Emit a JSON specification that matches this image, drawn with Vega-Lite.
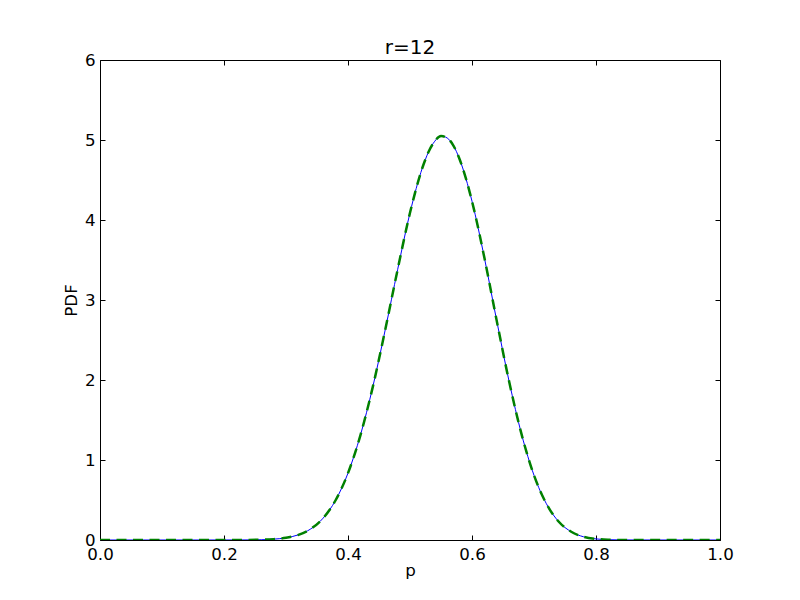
{
  "$schema": "https://vega.github.io/schema/vega-lite/v6.json",
  "width": 620,
  "height": 480,
  "autosize": {"type": "none"},
  "padding": {"left": 100, "top": 60, "right": 80, "bottom": 60},
  "background": "white",
  "title": {
    "text": "r=12",
    "font": "DejaVu Sans",
    "fontSize": 20,
    "fontWeight": "normal",
    "color": "black",
    "offset": -6
  },
  "config": {
    "view": {"stroke": "black", "strokeWidth": 1},
    "axis": {
      "grid": false,
      "domain": false,
      "tickColor": "black",
      "tickWidth": 1,
      "tickSize": -5,
      "labelFont": "DejaVu Sans",
      "labelFontSize": 16.67,
      "labelColor": "black",
      "labelFlush": false,
      "labelOverlap": false,
      "titleFont": "DejaVu Sans",
      "titleFontSize": 16.67,
      "titleFontWeight": "normal",
      "titleColor": "black"
    }
  },
  "data": {
    "values": [
      {"p": 0.0, "pdf": 0},
      {"p": 0.05, "pdf": 0},
      {"p": 0.1, "pdf": 0},
      {"p": 0.15, "pdf": 0},
      {"p": 0.2, "pdf": 0.0001},
      {"p": 0.22, "pdf": 0.0003},
      {"p": 0.24, "pdf": 0.001},
      {"p": 0.26, "pdf": 0.0035},
      {"p": 0.28, "pdf": 0.0104},
      {"p": 0.3, "pdf": 0.0273},
      {"p": 0.32, "pdf": 0.0648},
      {"p": 0.34, "pdf": 0.139},
      {"p": 0.36, "pdf": 0.274},
      {"p": 0.38, "pdf": 0.497},
      {"p": 0.4, "pdf": 0.836},
      {"p": 0.42, "pdf": 1.309},
      {"p": 0.44, "pdf": 1.914},
      {"p": 0.46, "pdf": 2.626},
      {"p": 0.48, "pdf": 3.378},
      {"p": 0.5, "pdf": 4.09},
      {"p": 0.52, "pdf": 4.653},
      {"p": 0.53, "pdf": 4.853},
      {"p": 0.54, "pdf": 4.985},
      {"p": 0.55, "pdf": 5.05},
      {"p": 0.56, "pdf": 5.025},
      {"p": 0.57, "pdf": 4.93},
      {"p": 0.58, "pdf": 4.76},
      {"p": 0.6, "pdf": 4.235},
      {"p": 0.62, "pdf": 3.527},
      {"p": 0.64, "pdf": 2.736},
      {"p": 0.66, "pdf": 1.977},
      {"p": 0.68, "pdf": 1.32},
      {"p": 0.7, "pdf": 0.809},
      {"p": 0.72, "pdf": 0.453},
      {"p": 0.74, "pdf": 0.228},
      {"p": 0.76, "pdf": 0.103},
      {"p": 0.78, "pdf": 0.04},
      {"p": 0.8, "pdf": 0.0136},
      {"p": 0.82, "pdf": 0.0038},
      {"p": 0.84, "pdf": 0.0009},
      {"p": 0.86, "pdf": 0.0002},
      {"p": 0.9, "pdf": 0},
      {"p": 0.95, "pdf": 0},
      {"p": 1.0, "pdf": 0}
    ]
  },
  "layer": [
    {
      "mark": {"type": "line", "color": "#0000ff", "strokeWidth": 1, "interpolate": "monotone", "clip": true},
      "encoding": {
        "x": {
          "field": "p",
          "type": "quantitative",
          "scale": {"domain": [0, 1], "nice": false, "zero": false},
          "axis": {"orient": "bottom", "title": "p", "values": [0, 0.2, 0.4, 0.6, 0.8, 1.0], "format": ".1f", "labelPadding": 11, "titlePadding": 0}
        },
        "y": {
          "field": "pdf",
          "type": "quantitative",
          "scale": {"domain": [0, 6], "nice": false},
          "axis": {"orient": "left", "title": "PDF", "values": [0, 1, 2, 3, 4, 5, 6], "format": "d", "labelPadding": 10, "titlePadding": 4}
        }
      }
    },
    {
      "mark": {"type": "line", "color": "#008000", "strokeWidth": 2.5, "strokeDash": [10, 6.5], "interpolate": "monotone", "clip": true},
      "encoding": {
        "x": {
          "field": "p",
          "type": "quantitative",
          "axis": {"orient": "top", "title": null, "labels": false, "values": [0, 0.2, 0.4, 0.6, 0.8, 1.0]}
        },
        "y": {
          "field": "pdf",
          "type": "quantitative",
          "axis": {"orient": "right", "title": null, "labels": false, "values": [0, 1, 2, 3, 4, 5, 6]}
        }
      }
    }
  ],
  "resolve": {"axis": {"x": "independent", "y": "independent"}}
}
